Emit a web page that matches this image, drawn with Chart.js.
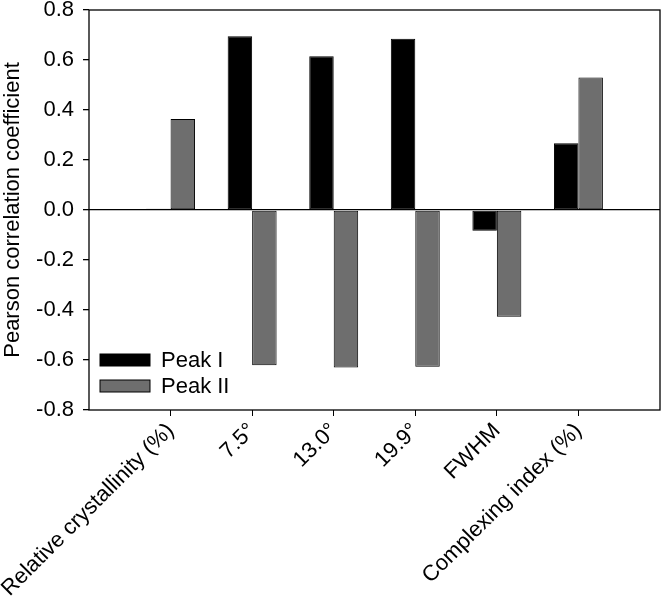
<!DOCTYPE html>
<html>
<head>
<meta charset="utf-8">
<script src="https://cdn.jsdelivr.net/npm/chart.js@4"></script>
<style>
  html, body { margin:0; padding:0; background:#fff; }
  #wrap { width:663px; height:597px; position:relative; }
</style>
</head>
<body>
<div id="wrap"><canvas id="chart"></canvas></div>
<script>
// ── Data ──
const categories = ['Relative crystallinity (%)', '7.5°', '13.0°', '19.9°', 'FWHM', 'Complexing index (%)'];
const peakI  = [0.005, 0.695, 0.615, 0.685, -0.083, 0.267];
const peakII = [0.364, -0.621, -0.630, -0.627, -0.427, 0.530];
const yTicks = [-0.8, -0.6, -0.4, -0.2, 0.0, 0.2, 0.4, 0.6, 0.8];

const FONT = 'Arial, "Liberation Sans", sans-serif';
const FS = 22;

// empty slot on each side, so the groups sit at 1..6 of a 0..7 span
const labels = ['', ...categories, ''];
const pad = arr => [null, ...arr, null];

// ── Frame + in-plot legend ──
const framePlugin = {
  id: 'frame',
  afterDatasetsDraw(chart) {
    const { ctx, chartArea: a } = chart;
    ctx.save();
    ctx.strokeStyle = '#000';
    ctx.lineWidth = 1.3;
    ctx.strokeRect(a.left, a.top, a.right - a.left, a.bottom - a.top);

    // legend, lower-left inside plot
    const items = chart.data.datasets;
    ctx.font = FS + 'px ' + FONT;
    ctx.textBaseline = 'middle';
    items.forEach((ds, i) => {
      const y = 354 + i * 26;
      ctx.fillStyle = ds.backgroundColor;
      ctx.fillRect(a.left + 11, y, 50, 12);
      ctx.lineWidth = 1;
      ctx.strokeStyle = '#000';
      ctx.strokeRect(a.left + 11, y, 50, 12);
      ctx.fillStyle = '#000';
      ctx.fillText(ds.label, a.left + 72, y + 7);
    });
    ctx.restore();
  }
};

new Chart(document.getElementById('chart').getContext('2d'), {
  type: 'bar',
  data: {
    labels,
    datasets: [
      { label:'Peak I',  data: pad(peakI),  backgroundColor:'#000000', borderColor:'#000', borderWidth:1, borderSkipped:false },
      { label:'Peak II', data: pad(peakII), backgroundColor:'#6e6e6e', borderColor:'#000', borderWidth:1, borderSkipped:false },
    ]
  },
  options: {
    responsive:true, maintainAspectRatio:false, animation:false,
    layout: { padding: { top:10, right:3, left:0, bottom:0 } },
    datasets: { bar: { categoryPercentage:0.6, barPercentage:1.0 } },
    plugins: { legend:{display:false}, tooltip:{enabled:false} },
    scales: {
      x: {
        offset:false,
        grid: {
          offset:false, drawOnChartArea:false, tickLength:6,
          tickColor: c => (c.index === 0 || c.index === labels.length - 1) ? 'rgba(0,0,0,0)' : '#000'
        },
        border: { display:false },
        ticks: { autoSkip:false, maxRotation:45, minRotation:45, color:'#000', padding:2, font:{ family:FONT, size:FS } },
        afterFit: s => { s.height = 187; s.paddingLeft = 0; s.paddingRight = 0; }
      },
      y: {
        min:-0.8, max:0.8,
        afterBuildTicks: s => { s.ticks = yTicks.map(v => ({ value:v })); },
        grid: {
          tickLength:6, tickColor:'#000',
          color: c => c.tick && Math.abs(c.tick.value) < 1e-9 ? '#000' : 'rgba(0,0,0,0)',
          lineWidth: 1.3
        },
        border: { display:false },
        ticks: { color:'#000', padding:9, font:{ family:FONT, size:FS }, callback: v => Number(v).toFixed(1) },
        title: { display:true, text:'Pearson correlation coefficient', color:'#000', padding:{top:0,bottom:2}, font:{ family:FONT, size:FS } },
        // fixed width; let the top label hang over the frame like the original
        afterFit: s => { s.width = 89; s.paddingTop = 0; s.paddingBottom = 0; }
      }
    }
  },
  plugins: [framePlugin]
});
</script>
</body>
</html>
